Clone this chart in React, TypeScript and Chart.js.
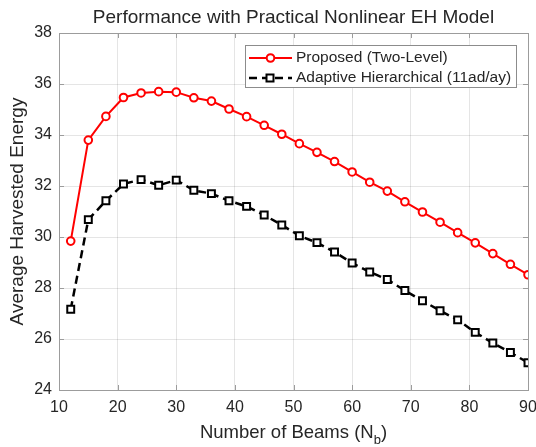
import React, { useEffect, useRef } from "react";
import { Chart, registerables } from "chart.js";

Chart.register(...registerables);

const beams = [12, 15, 18, 21, 24, 27, 30, 33, 36, 39, 42, 45, 48, 51, 54, 57, 60, 63, 66, 69, 72, 75, 78, 81, 84, 87, 90];
const proposed = [29.84, 33.8, 34.73, 35.47, 35.65, 35.7, 35.68, 35.46, 35.33, 35.02, 34.72, 34.38, 34.03, 33.66, 33.32, 32.96, 32.55, 32.15, 31.8, 31.38, 30.98, 30.58, 30.17, 29.77, 29.35, 28.93, 28.52];
const adaptive = [27.17, 30.68, 31.42, 32.08, 32.25, 32.03, 32.23, 31.83, 31.7, 31.42, 31.2, 30.86, 30.47, 30.05, 29.78, 29.41, 28.98, 28.63, 28.33, 27.9, 27.5, 27.11, 26.75, 26.26, 25.84, 25.47, 25.07];
const xTicks = [10, 20, 30, 40, 50, 60, 70, 80, 90];
const yTicks = [24, 26, 28, 30, 32, 34, 36, 38];
const seriesNames = ["Proposed (Two-Level)", "Adaptive Hierarchical (11ad/ay)"];
const titleText = "Performance with Practical Nonlinear EH Model";
const yTitle = "Average Harvested Energy";
const xTitleMain = "Number of Beams (N";
const xTitleSub = "b";

const FONT = "'Liberation Sans', Arial, Helvetica, sans-serif";
const TEXT = "#262626";
const FRAME = "#9c9c9c";

const decorPlugin = {
  id: "decor",
  afterDraw(chart: any) {
    const ctx = chart.ctx;
    const a = chart.chartArea;
    const xs = chart.scales.x;
    const ys = chart.scales.y;
    ctx.save();
    // frame
    ctx.strokeStyle = FRAME;
    ctx.lineWidth = 1;
    ctx.strokeRect(Math.round(a.left) + 0.5, Math.round(a.top) + 0.5, Math.round(a.right - a.left), Math.round(a.bottom - a.top));
    // inward ticks
    ctx.beginPath();
    const tl = 5;
    xTicks.forEach((v) => {
      const px = Math.round(xs.getPixelForValue(v)) + 0.5;
      ctx.moveTo(px, a.bottom);
      ctx.lineTo(px, a.bottom - tl);
      ctx.moveTo(px, a.top);
      ctx.lineTo(px, a.top + tl);
    });
    yTicks.forEach((v) => {
      const py = Math.round(ys.getPixelForValue(v)) + 0.5;
      ctx.moveTo(a.left, py);
      ctx.lineTo(a.left + tl, py);
      ctx.moveTo(a.right, py);
      ctx.lineTo(a.right - tl, py);
    });
    ctx.stroke();

    // title
    ctx.fillStyle = TEXT;
    ctx.font = `19px ${FONT}`;
    ctx.textAlign = "center";
    ctx.textBaseline = "middle";
    ctx.fillText(titleText, (a.left + a.right) / 2, 18);

    // x title with subscript
    ctx.font = `18.5px ${FONT}`;
    const wMain = ctx.measureText(xTitleMain).width;
    ctx.font = `13px ${FONT}`;
    const wSub = ctx.measureText(xTitleSub).width;
    ctx.font = `18.5px ${FONT}`;
    const wClose = ctx.measureText(")").width;
    const total = wMain + wSub + wClose;
    let sx = (a.left + a.right) / 2 - total / 2;
    const ty = 433;
    ctx.textAlign = "left";
    ctx.fillText(xTitleMain, sx, ty);
    sx += wMain;
    ctx.font = `13px ${FONT}`;
    ctx.fillText(xTitleSub, sx, ty + 7);
    sx += wSub;
    ctx.font = `18.5px ${FONT}`;
    ctx.fillText(")", sx, ty);

    // y title
    ctx.save();
    ctx.translate(18, (a.top + a.bottom) / 2);
    ctx.rotate(-Math.PI / 2);
    ctx.textAlign = "center";
    ctx.font = `19px ${FONT}`;
    ctx.fillText(yTitle, 0, 0);
    ctx.restore();

    // legend
    ctx.font = `15.5px ${FONT}`;
    const tw = Math.max(...seriesNames.map((s) => ctx.measureText(s).width));
    const bx = 245.5, by = 45.5;
    const textX = 296;
    const bw = Math.round(textX + tw + 5 - bx);
    const bh = 42;
    ctx.fillStyle = "#ffffff";
    ctx.fillRect(bx, by, bw, bh);
    ctx.strokeStyle = "#8c8c8c";
    ctx.lineWidth = 1;
    ctx.strokeRect(bx, by, bw, bh);
    const r1 = 58, r2 = 78;
    // red row
    ctx.strokeStyle = "#ff0000";
    ctx.lineWidth = 2;
    ctx.beginPath();
    ctx.moveTo(249, r1);
    ctx.lineTo(292, r1);
    ctx.stroke();
    ctx.beginPath();
    ctx.arc(270.5, r1, 3.8, 0, Math.PI * 2);
    ctx.fillStyle = "#ffffff";
    ctx.fill();
    ctx.stroke();
    // black row
    ctx.strokeStyle = "#000000";
    ctx.lineWidth = 2.5;
    ctx.setLineDash([8, 5]);
    ctx.beginPath();
    ctx.moveTo(249, r2);
    ctx.lineTo(292, r2);
    ctx.stroke();
    ctx.setLineDash([]);
    ctx.lineWidth = 2;
    ctx.fillStyle = "#ffffff";
    ctx.fillRect(266.5, r2 - 3.5, 7, 7);
    ctx.strokeRect(266.5, r2 - 3.5, 7, 7);
    ctx.fillStyle = TEXT;
    ctx.textAlign = "left";
    ctx.textBaseline = "middle";
    ctx.fillText(seriesNames[0], textX, r1);
    ctx.fillText(seriesNames[1], textX, r2);
    ctx.restore();
  },
};

export default function App() {
  const ref = useRef<HTMLCanvasElement | null>(null);
  useEffect(() => {
    document.body.style.margin = "0";
    const canvas = ref.current;
    if (!canvas) return;
    const chart = new Chart(canvas, {
      type: "line",
      data: {
        datasets: [
          {
            label: seriesNames[0],
            data: beams.map((b, i) => ({ x: b, y: proposed[i] })),
            borderColor: "#ff0000",
            backgroundColor: "#ffffff",
            borderWidth: 2,
            pointStyle: "circle",
            pointRadius: 3.8,
            pointBorderWidth: 2,
            pointBorderColor: "#ff0000",
            pointBackgroundColor: "#ffffff",
            tension: 0,
          },
          {
            label: seriesNames[1],
            data: beams.map((b, i) => ({ x: b, y: adaptive[i] })),
            borderColor: "#000000",
            backgroundColor: "#ffffff",
            borderWidth: 2.5,
            borderDash: [8, 5],
            pointStyle: "rect",
            pointRadius: 4.9,
            pointBorderWidth: 2,
            pointBorderColor: "#000000",
            pointBackgroundColor: "#ffffff",
            tension: 0,
          },
        ],
      },
      options: {
        animation: false,
        responsive: false,
        devicePixelRatio: 1,
        layout: { padding: { top: 33, right: 8, left: 0, bottom: 0 } },
        plugins: { legend: { display: false }, title: { display: false }, tooltip: { enabled: false } },
        scales: {
          x: {
            type: "linear",
            min: 10,
            max: 90,
            afterFit: (s: any) => { s.height = 57; s.paddingLeft = 0; s.paddingRight = 0; },
            afterBuildTicks: (s: any) => { s.ticks = xTicks.map((v) => ({ value: v })); },
            ticks: { font: { family: FONT, size: 16 }, color: TEXT, padding: 8, maxRotation: 0 },
            grid: { color: "rgba(0,0,0,0.1)", drawTicks: false },
            border: { display: false },
          },
          y: {
            type: "linear",
            min: 24,
            max: 38,
            afterFit: (s: any) => { s.width = 59; s.paddingTop = 0; s.paddingBottom = 0; },
            afterBuildTicks: (s: any) => { s.ticks = yTicks.map((v) => ({ value: v })); },
            ticks: { font: { family: FONT, size: 16 }, color: TEXT, padding: 7 },
            grid: { color: "rgba(0,0,0,0.1)", drawTicks: false },
            border: { display: false },
          },
        },
      },
      plugins: [decorPlugin],
    });
    return () => chart.destroy();
  }, []);
  return (
    <div style={{ width: 536, height: 447 }}>
      <canvas ref={ref} width={536} height={447} style={{ display: "block" }} />
    </div>
  );
}
